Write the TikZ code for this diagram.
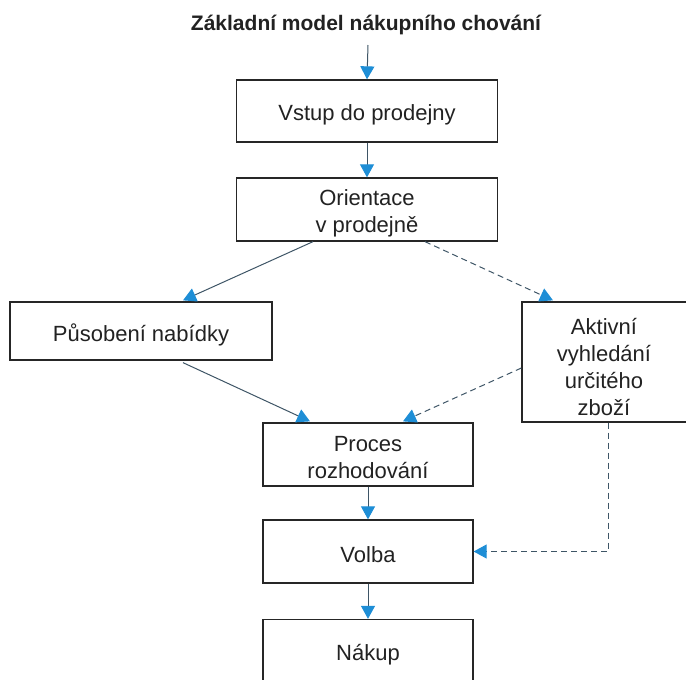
\documentclass[tikz,border=0pt]{standalone}
\usepackage{fontspec}
\setmainfont{Liberation Sans}
\usetikzlibrary{arrows.meta}
\definecolor{linec}{HTML}{3E5566}
\definecolor{tipc}{HTML}{1E8ED6}
\definecolor{textc}{HTML}{222222}
\begin{document}
\begin{tikzpicture}[x=1pt,y=-1pt,
  box/.style={draw=black!85, line width=1.3pt, fill=white, inner sep=0pt},
  txt/.style={text=textc, align=center, inner sep=0pt, font=\fontsize{22}{27}\selectfont},
  conn/.style={draw=linec, line width=1pt,
    -{Triangle[width=14pt,length=13pt,color=tipc,fill=tipc]}},
  dconn/.style={conn, dash pattern=on 6pt off 4pt}]
\useasboundingbox (0,0) rectangle (686,680);
\node[font=\bfseries\fontsize{21}{25}\selectfont, text=textc] (title) at (366,25) {Základní model nákupního chování};
\coordinate (start) at (368,45);
\node[box, minimum width=261pt, minimum height=62pt] (vstup) at (367,111) {};
\node[box, minimum width=261pt, minimum height=63pt] (orient) at (367,209.5) {};
\node[box, minimum width=262pt, minimum height=58pt] (pusob) at (141,331) {};
\node[box, minimum width=168pt, minimum height=120pt] (aktiv) at (606,362) {};
\node[box, minimum width=210pt, minimum height=63pt] (proces) at (368,454.5) {};
\node[box, minimum width=210pt, minimum height=63pt] (volba) at (368,551.5) {};
\node[box, minimum width=210pt, minimum height=63pt] (nakup) at (368,651) {};
\node[txt] (vstupT) at ([yshift=-4pt]vstup.center) {Vstup do prodejny};
\node[txt] (orientT) at ([yshift=-4pt]orient.center) {Orientace\\v prodejně};
\node[txt] (pusobT) at ([yshift=-4pt]pusob.center) {Působení nabídky};
\node[txt] (aktivT) at ([xshift=-2pt,yshift=-5pt]aktiv.center) {Aktivní\\vyhledání\\určitého\\zboží};
\node[txt] (procesT) at ([yshift=-3pt]proces.center) {Proces\\rozhodování};
\node[txt] (volbaT) at ([yshift=-3pt]volba.center) {Volba};
\node[txt] (nakupT) at ([yshift=-4pt]nakup.center) {Nákup};
\draw[conn] (start) -- (vstup.north);
\draw[conn] (vstup.south) -- (orient.north);
\draw[conn] ([xshift=-54pt]orient.south) -- ([xshift=42pt,yshift=1pt]pusob.north);
\draw[dconn] ([xshift=58pt]orient.south) -- ([xshift=-53pt,yshift=1pt]aktiv.north);
\draw[conn] ([xshift=42pt,yshift=-2pt]pusob.south) -- ([xshift=-58pt,yshift=1pt]proces.north);
\draw[dconn] ([yshift=-6pt]aktiv.west) -- ([xshift=35pt,yshift=1pt]proces.north);
\draw[conn] (proces.south) -- (volba.north);
\draw[conn] (volba.south) -- (nakup.north);
\draw[dconn] ([xshift=2pt]aktiv.south) |- (volba.east);
\end{tikzpicture}
\end{document}
